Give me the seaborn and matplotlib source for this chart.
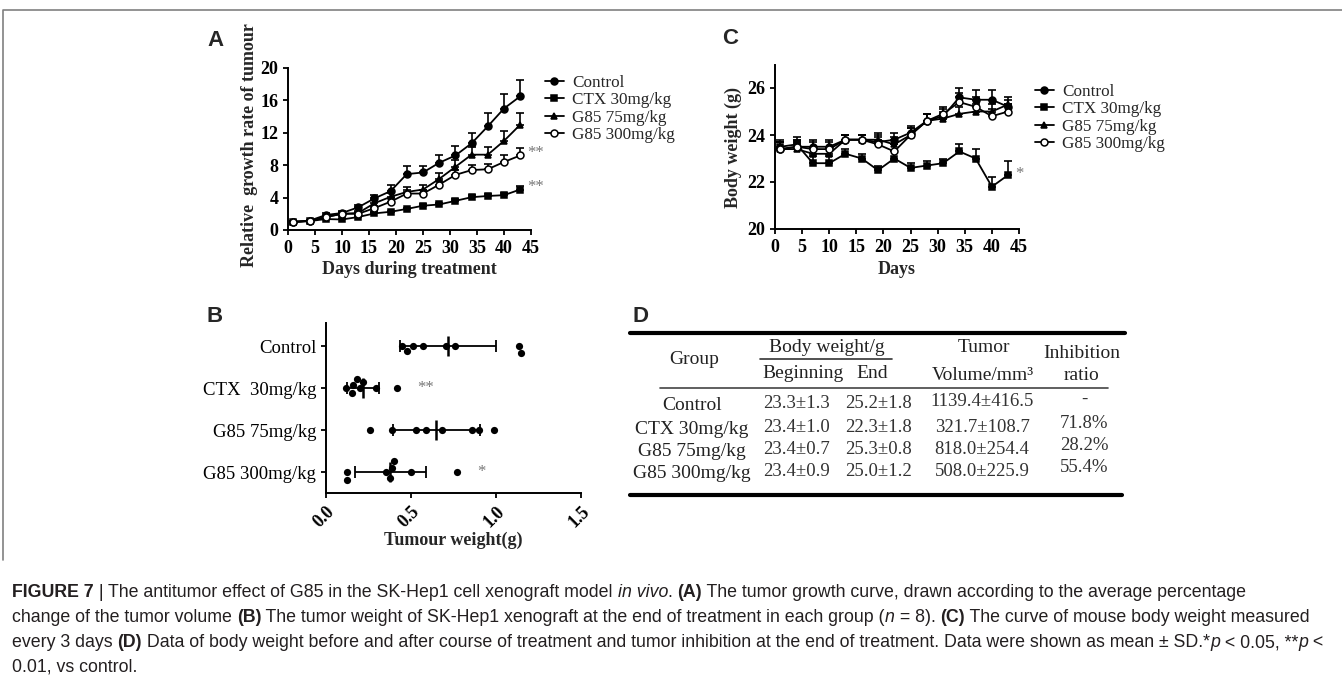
import matplotlib
matplotlib.use("Agg")
import matplotlib.pyplot as plt
from matplotlib.lines import Line2D
from matplotlib import font_manager
import numpy as np
import pandas as pd
import seaborn as sns

# --- DATA ---
groups = ["Control", "CTX 30mg/kg", "G85 75mg/kg", "G85 300mg/kg"]
groups_b = ["Control", "CTX  30mg/kg", "G85 75mg/kg", "G85 300mg/kg"]
days = [1, 4, 7, 10, 13, 16, 19, 22, 25, 28, 31, 34, 37, 40, 43]

# panel A: relative growth rate of tumour (mean, upper SD)
growth_control = [1.0, 1.15, 1.85, 2.1, 2.8, 3.9, 4.8, 6.9, 7.1, 8.3, 9.2, 10.7, 12.8, 15.0, 16.5]
growth_control_sd = [0.05, 0.1, 0.2, 0.25, 0.3, 0.4, 0.7, 1.0, 0.75, 1.0, 1.2, 1.3, 1.6, 1.8, 2.0]
growth_ctx = [1.0, 1.1, 1.35, 1.3, 1.6, 2.05, 2.25, 2.6, 3.0, 3.15, 3.6, 4.05, 4.2, 4.3, 5.0]
growth_ctx_sd = [0.05, 0.05, 0.1, 0.1, 0.1, 0.15, 0.15, 0.15, 0.2, 0.2, 0.2, 0.25, 0.25, 0.3, 0.4]
growth_g75 = [1.0, 1.15, 1.6, 2.0, 2.1, 3.3, 4.1, 4.7, 5.0, 6.3, 7.8, 9.3, 9.3, 11.0, 13.0]
growth_g75_sd = [0.05, 0.1, 0.15, 0.2, 0.25, 0.4, 0.5, 0.6, 0.6, 0.7, 0.8, 0.9, 1.0, 1.2, 1.5]
growth_g300 = [1.0, 1.1, 1.6, 2.0, 2.0, 2.7, 3.5, 4.5, 4.5, 5.6, 6.8, 7.4, 7.5, 8.4, 9.2]
growth_g300_sd = [0.05, 0.1, 0.1, 0.15, 0.2, 0.3, 0.4, 0.5, 0.5, 0.5, 0.6, 0.6, 0.7, 0.8, 0.9]

# panel C: body weight (g)
bw_control = [23.4, 23.5, 23.5, 23.5, 23.8, 23.8, 23.7, 23.8, 24.1, 24.6, 24.8, 25.6, 25.5, 25.5, 25.2]
bw_control_sd = [0.3, 0.3, 0.3, 0.3, 0.2, 0.2, 0.3, 0.3, 0.3, 0.3, 0.3, 0.4, 0.4, 0.4, 0.3]
bw_ctx = [23.5, 23.6, 22.8, 22.8, 23.2, 23.0, 22.5, 23.0, 22.6, 22.7, 22.8, 23.3, 23.0, 21.8, 22.3]
bw_ctx_sd = [0.3, 0.3, 0.3, 0.3, 0.2, 0.2, 0.2, 0.3, 0.2, 0.2, 0.2, 0.3, 0.4, 0.4, 0.6]
bw_g75 = [23.4, 23.4, 23.2, 23.2, 23.8, 23.8, 23.8, 23.6, 24.0, 24.6, 24.7, 24.9, 25.0, 25.0, 25.3]
bw_g75_sd = [0.3, 0.3, 0.3, 0.3, 0.2, 0.2, 0.3, 0.3, 0.3, 0.3, 0.3, 0.3, 0.3, 0.3, 0.3]
bw_g300 = [23.4, 23.5, 23.4, 23.4, 23.8, 23.8, 23.6, 23.3, 24.0, 24.6, 24.9, 25.4, 25.2, 24.8, 25.0]
bw_g300_sd = [0.3, 0.3, 0.3, 0.3, 0.2, 0.2, 0.3, 0.3, 0.3, 0.3, 0.3, 0.4, 0.4, 0.3, 0.3]

# panel B: tumour weight (g), n = 8 per group
tw_control = [0.478, 0.445, 0.569, 0.51, 0.759, 0.706, 1.135, 1.147]
tw_ctx = [0.18, 0.151, 0.2, 0.118, 0.22, 0.161, 0.294, 0.416]
tw_g75 = [0.259, 0.386, 0.588, 0.529, 0.68, 0.9, 0.857, 0.99]
tw_g300 = [0.122, 0.122, 0.39, 0.353, 0.376, 0.4, 0.5, 0.769]

# panel D: table
bw_begin = ["23.3±1.3", "23.4±1.0", "23.4±0.7", "23.4±0.9"]
bw_end = ["25.2±1.8", "22.3±1.8", "25.3±0.8", "25.0±1.2"]
tumor_volume = ["1139.4±416.5", "321.7±108.7", "818.0±254.4", "508.0±225.9"]
inhibition = ["-", "71.8%", "28.2%", "55.4%"]

# --- STYLE ---
W, H = 1342, 687
sns.set_style("ticks")
plt.rcParams["font.family"] = ["Liberation Serif", "DejaVu Serif"]
plt.rcParams["axes.linewidth"] = 1.4
plt.rcParams["xtick.major.width"] = 1.3
plt.rcParams["ytick.major.width"] = 1.3
plt.rcParams["xtick.major.size"] = 3.5
plt.rcParams["ytick.major.size"] = 3.5
plt.rcParams["xtick.color"] = "black"
plt.rcParams["ytick.color"] = "black"
plt.rcParams["axes.edgecolor"] = "black"

avail = {f.name for f in font_manager.fontManager.ttflist}
cap_font = "Liberation Sans Narrow" if "Liberation Sans Narrow" in avail else "Liberation Sans"

fig = plt.figure(figsize=(W / 100, H / 100), dpi=100)
ov = fig.add_axes([0, 0, 1, 1], zorder=5)
ov.set_xlim(0, W)
ov.set_ylim(H, 0)
ov.axis("off")
ov.patch.set_alpha(0)


def box(left, top, width, height):
    return [left / W, 1 - (top + height) / H, width / W, height / H]


markers = ["o", "s", "^", "o"]
faces = ["black", "black", "black", "white"]
sizes = [5, 4.5, 4.5, 5]


def line_panel(ax, series, errs):
    for vals, err, mk, fc, ms in zip(series, errs, markers, faces, sizes):
        sns.lineplot(x=days, y=vals, ax=ax, color="black", linewidth=1.3,
                     marker=mk, markersize=ms, markerfacecolor=fc,
                     markeredgecolor="black", markeredgewidth=1.1,
                     legend=False, clip_on=False, zorder=3)
        ax.errorbar(days, vals, yerr=[np.zeros(len(err)), err], fmt="none",
                    ecolor="black", elinewidth=1.2, capsize=2.8, capthick=1.2,
                    clip_on=False, zorder=2)
    sns.despine(ax=ax)
    ax.set_xlim(0, 45)
    ax.set_xticks(range(0, 46, 5))
    ax.set_xlabel("")
    ax.set_ylabel("")
    for lab in ax.get_xticklabels() + ax.get_yticklabels():
        lab.set_fontsize(13)
        lab.set_fontweight("bold")
    handles = [Line2D([], [], color="black", lw=1.3, marker=mk, ms=ms, mfc=fc,
                      mec="black", mew=1.1)
               for mk, fc, ms in zip(markers, faces, sizes)]
    return handles


leg_kw = dict(loc="upper left", bbox_transform=fig.transFigure, frameon=False,
              fontsize=12.3, handlelength=1.1, handletextpad=0.5,
              labelspacing=0.08, borderpad=0, borderaxespad=0)

# --- PANEL A ---
axA = fig.add_axes(box(288, 68, 243, 162))
hA = line_panel(axA, [growth_control, growth_ctx, growth_g75, growth_g300],
                [growth_control_sd, growth_ctx_sd, growth_g75_sd, growth_g300_sd])
axA.set_ylim(0, 20)
axA.set_yticks(range(0, 21, 4))
axA.text(44.3, growth_g300[-1] + 0.3, "**", color="#777777", fontsize=12, va="center")
axA.text(44.3, growth_ctx[-1] + 0.3, "**", color="#777777", fontsize=12, va="center")
axA.legend(hA, groups, bbox_to_anchor=(545 / W, 1 - 75 / H), **leg_kw)
ov.text(250, 145, "Relative  growth rate of tumour", rotation=90, ha="center",
        va="center", fontsize=13, fontweight="bold")
ov.text(409, 270, "Days during treatment", ha="center", va="center",
        fontsize=13, fontweight="bold")

# --- PANEL C ---
axC = fig.add_axes(box(775, 64.5, 244, 164.5))
hC = line_panel(axC, [bw_control, bw_ctx, bw_g75, bw_g300],
                [bw_control_sd, bw_ctx_sd, bw_g75_sd, bw_g300_sd])
axC.set_ylim(20, 27)
axC.set_yticks([20, 22, 24, 26])
axC.text(44.3, bw_ctx[-1] + 0.05, "*", color="#777777", fontsize=12, va="center")
axC.legend(hC, groups, bbox_to_anchor=(1035 / W, 1 - 84 / H), **leg_kw)
ov.text(733, 147, "Body weight (g)", rotation=90, ha="center", va="center",
        fontsize=13, fontweight="bold")
ov.text(897, 270, "Days", ha="center", va="center", fontsize=13, fontweight="bold")

# --- PANEL B ---
axB = fig.add_axes(box(326, 323, 255, 170))
df_b = pd.DataFrame({
    "group": np.repeat(groups_b, 8),
    "weight": np.concatenate([tw_control, tw_ctx, tw_g75, tw_g300]),
})
sns.swarmplot(data=df_b, x="weight", y="group", order=groups_b, color="black",
              size=5.2, ax=axB, zorder=3)
means = df_b.groupby("group", sort=False)["weight"].mean().reindex(groups_b)
sds = df_b.groupby("group", sort=False)["weight"].std().reindex(groups_b)
pos = np.arange(len(groups_b))
axB.errorbar(means.values, pos, xerr=sds.values, fmt="none", ecolor="black",
             elinewidth=1.3, capsize=4.5, capthick=1.3, zorder=2)
axB.plot(means.values, pos, ls="none", marker="|", ms=15, mew=1.8, color="black", zorder=2)
axB.set_xlim(0, 1.5)
axB.set_ylim(3.5, -0.55)
axB.set_xticks([0, 0.5, 1.0, 1.5])
axB.set_xticklabels(["0.0", "0.5", "1.0", "1.5"], rotation=45, ha="right",
                    rotation_mode="anchor", fontsize=13, fontweight="bold")
axB.tick_params(axis="y", labelsize=13.5)
axB.set_xlabel("")
axB.set_ylabel("")
sns.despine(ax=axB)
axB.text(0.535, 1, "**", color="#777777", fontsize=12, va="center")
axB.text(0.89, 3, "*", color="#777777", fontsize=12, va="center")
ov.text(453, 540, "Tumour weight(g)", ha="center", va="center", fontsize=13,
        fontweight="bold")

# --- PANEL LETTERS ---
for letter, (lx, ly) in zip("ACBD", [(215, 40), (730, 39), (215, 317), (641, 316)]):
    ov.text(lx, ly, letter, fontsize=16, fontweight="bold", family="Liberation Sans",
            ha="center", va="center")

# --- PANEL D: TABLE ---
ov.plot([630, 1125], [333, 333], color="black", lw=3)
ov.plot([660, 1108], [388, 388], color="#444444", lw=1.2)
ov.plot([630, 1122], [495, 495], color="black", lw=3)
ov.plot([760, 892], [359, 359], color="#333333", lw=1.2)
hdr = dict(fontsize=14, ha="center", va="center", color="#222222")
ov.text(694, 360, "Group", **hdr)
ov.text(827, 348, "Body weight/g", **hdr)
ov.text(803, 374, "Beginning", **hdr)
ov.text(872, 374, "End", **hdr)
ov.text(984, 348, "Tumor", **hdr)
ov.text(983, 376, "Volume/mm³", **hdr)
ov.text(1082, 353, "Inhibition", **hdr)
ov.text(1082, 376, "ratio", **hdr)
row_y = [405, 430, 452, 474]
val = dict(fontsize=13.5, ha="center", va="center", color="#333333")
for i, g in enumerate(groups):
    ov.text(692, row_y[i], g, **hdr)
    ov.text(796, row_y[i] - 2, bw_begin[i], **val)
    ov.text(878, row_y[i] - 2, bw_end[i], **val)
    ov.text(982, row_y[i] - 3, tumor_volume[i], **val)
    ov.text(1084, row_y[i] - 6, inhibition[i], **val)

# --- FRAME ---
ov.plot([3, 3, W], [560, 10, 10], color="#808080", lw=1.2)

# --- CAPTION ---
renderer = fig.canvas.get_renderer()


def seg_width(s, **kw):
    t1 = ov.text(0, 0, "|" + s + "|", **kw)
    t2 = ov.text(0, 0, "||", **kw)
    w = t1.get_window_extent(renderer).width - t2.get_window_extent(renderer).width
    t1.remove()
    t2.remove()
    return w


N, B, I = ("normal", "normal"), ("bold", "normal"), ("normal", "italic")
caption = [
    [("FIGURE 7", B), (" | ", N), ("The antitumor effect of G85 in the SK-Hep1 cell xenograft model ", N),
     ("in vivo", I), (". ", N), ("(A)", B),
     (" The tumor growth curve, drawn according to the average percentage", N)],
    [("change of the tumor volume ", N), ("(B)", B),
     (" The tumor weight of SK-Hep1 xenograft at the end of treatment in each group (", N),
     ("n", I), (" = 8). ", N), ("(C)", B), (" The curve of mouse body weight measured", N)],
    [("every 3 days ", N), ("(D)", B),
     (" Data of body weight before and after course of treatment and tumor inhibition at the end of treatment. Data were shown as mean ± SD.*", N),
     ("p", I), (" < 0.05, **", N), ("p", I), (" <", N)],
    [("0.01, vs control.", N)],
]


def line_width(parts, size):
    return sum(seg_width(t, fontsize=size, fontweight=w, fontstyle=s, family=cap_font)
               for t, (w, s) in parts)


base = 12
cap_size = base * (1238 / line_width(caption[0], base))
for k, parts in enumerate(caption):
    x = 12
    y = 597 + 25 * k
    for t, (w, s) in parts:
        kw = dict(fontsize=cap_size, fontweight=w, fontstyle=s, family=cap_font, color="#231f20")
        ov.text(x, y, t, ha="left", va="baseline", **kw)
        x += seg_width(t, **kw)

fig.savefig("out.png", dpi=100)
